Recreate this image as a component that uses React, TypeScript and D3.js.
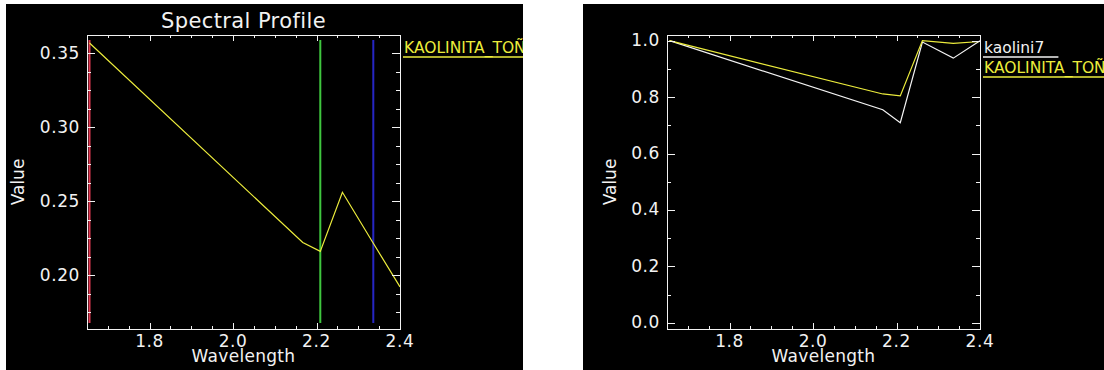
import React from 'react';
import * as d3 from 'd3';

// ---- data ----
const wavelengths = [1.656, 2.167, 2.209, 2.262, 2.336, 2.4];
const profileValues = [0.357, 0.222, 0.216, 0.256, 0.2215, 0.192];
const kaolini7Values = [1.0, 0.755, 0.709, 0.995, 0.938, 1.0];
const kaolinitaValues = [1.0, 0.811, 0.804, 1.0, 0.99, 0.997];
const bandMarkerWavelengths = [1.656, 2.209, 2.336];
const bandMarkerColors = ['#e23a52', '#3fc63f', '#2626c4'];

const xMajorTicks = [1.8, 2.0, 2.2, 2.4];
const xMinorTicks = [1.65, 1.7, 1.75, 1.85, 1.9, 1.95, 2.05, 2.1, 2.15, 2.25, 2.3, 2.35];
const leftYMajorTicks = [0.2, 0.25, 0.3, 0.35];
const leftYMinorTicks = [0.175, 0.1875, 0.2125, 0.225, 0.2375, 0.2625, 0.275, 0.2875, 0.3125, 0.325, 0.3375];
const rightYMajorTicks = [0.0, 0.2, 0.4, 0.6, 0.8, 1.0];
const rightYMinorTicks = [0.1, 0.3, 0.5, 0.7, 0.9];

const seriesNames = ['kaolini7', 'KAOLINITA_TOÑA'];

const FONT = '"DejaVu Sans", sans-serif';
const FG = '#f2f2f2';
const YELLOW = '#ecec3c';

type Series = { values: number[]; color: string };
type Legend = { text: string; color: string; x: number; y: number };

function Panel(props: {
  bg: [number, number, number, number];
  frame: [number, number, number, number];
  xDomain: [number, number];
  yDomain: [number, number];
  yMajor: number[];
  yMinor: number[];
  yFormat: (v: number) => string;
  yLabelX: number;
  title?: string;
  series: Series[];
  legends: Legend[];
  markers?: boolean;
  id: string;
}) {
  const [bx, by, bw, bh] = props.bg;
  const [fl, ft, fr, fb] = props.frame;
  const x = d3.scaleLinear().domain(props.xDomain).range([fl, fr]);
  const y = d3.scaleLinear().domain(props.yDomain).range([fb, ft]);
  const line = d3
    .line<number>()
    .x((_, i) => x(wavelengths[i]))
    .y((d) => y(d));
  const xMajLen = 6, xMinLen = 3, yMajLen = 8, yMinLen = 4;
  const cx = (fl + fr) / 2;
  return (
    <g>
      <defs>
        <clipPath id={props.id}>
          <rect x={bx} y={by} width={bw} height={bh} />
        </clipPath>
      </defs>
      <rect x={bx} y={by} width={bw} height={bh} fill="#000" />
      <g clipPath={`url(#${props.id})`}>
        {props.markers &&
          bandMarkerWavelengths.map((w, i) => (
            <line key={'m' + i} x1={x(w)} x2={x(w)} y1={ft + 5} y2={fb - 6} stroke={bandMarkerColors[i]} strokeWidth={2} />
          ))}
        {props.series.map((s, i) => (
          <path key={'s' + i} d={line(s.values) || ''} fill="none" stroke={s.color} strokeWidth={1.2} />
        ))}
        <rect x={fl + 0.5} y={ft + 0.5} width={fr - fl} height={fb - ft} fill="none" stroke={FG} strokeWidth={1} />
        {xMajorTicks.map((t) => (
          <g key={'xt' + t}>
            <line x1={Math.round(x(t)) + 0.5} x2={Math.round(x(t)) + 0.5} y1={fb} y2={fb - xMajLen} stroke={FG} />
            <line x1={Math.round(x(t)) + 0.5} x2={Math.round(x(t)) + 0.5} y1={ft} y2={ft + xMajLen} stroke={FG} />
            <text x={x(t)} y={347} textAnchor="middle" fontFamily={FONT} fontSize={17} fill={FG} letterSpacing={0.6}>
              {t.toFixed(1)}
            </text>
          </g>
        ))}
        {xMinorTicks.map((t) => (
          <g key={'xm' + t}>
            <line x1={Math.round(x(t)) + 0.5} x2={Math.round(x(t)) + 0.5} y1={fb} y2={fb - xMinLen} stroke={FG} />
            <line x1={Math.round(x(t)) + 0.5} x2={Math.round(x(t)) + 0.5} y1={ft} y2={ft + xMinLen} stroke={FG} />
          </g>
        ))}
        {props.yMajor.map((t) => (
          <g key={'yt' + t}>
            <line x1={fl} x2={fl + yMajLen} y1={Math.round(y(t)) + 0.5} y2={Math.round(y(t)) + 0.5} stroke={FG} />
            <line x1={fr} x2={fr - yMajLen} y1={Math.round(y(t)) + 0.5} y2={Math.round(y(t)) + 0.5} stroke={FG} />
            <text x={fl - 7} y={y(t) + 5.5} textAnchor="end" fontFamily={FONT} fontSize={17} fill={FG} letterSpacing={0.6}>
              {props.yFormat(t)}
            </text>
          </g>
        ))}
        {props.yMinor.map((t) => (
          <g key={'ym' + t}>
            <line x1={fl} x2={fl + yMinLen} y1={Math.round(y(t)) + 0.5} y2={Math.round(y(t)) + 0.5} stroke={FG} />
            <line x1={fr} x2={fr - yMinLen} y1={Math.round(y(t)) + 0.5} y2={Math.round(y(t)) + 0.5} stroke={FG} />
          </g>
        ))}
        {props.title && (
          <text x={cx} y={28} textAnchor="middle" fontFamily={FONT} fontSize={21} fill={FG} letterSpacing={0.4}>
            {props.title}
          </text>
        )}
        <text x={cx} y={362} textAnchor="middle" fontFamily={FONT} fontSize={17} fill={FG} letterSpacing={0.3}>
          Wavelength
        </text>
        <text
          transform={`translate(${props.yLabelX},${(ft + fb) / 2}) rotate(-90)`}
          textAnchor="middle"
          fontFamily={FONT}
          fontSize={17}
          fill={FG}
        >
          Value
        </text>
        {props.legends.map((l, i) => {
          const w = l.text.length * 9.3;
          return (
            <g key={'l' + i}>
              <text x={l.x} y={l.y} fontFamily={FONT} fontSize={15.5} fill={l.color}>
                {l.text}
              </text>
              <line x1={l.x - 1} x2={l.x + w} y1={l.y + 4} y2={l.y + 4} stroke={l.color} strokeWidth={1.3} />
            </g>
          );
        })}
      </g>
    </g>
  );
}

export default function App() {
  const xDomain: [number, number] = [1.65, 2.4];
  return (
    <svg width={1104} height={370} style={{ position: 'absolute', left: 0, top: 0 }}>
      <rect x={0} y={0} width={1104} height={370} fill="#fff" />
      <Panel
        id="clipL"
        bg={[6, 4, 517, 366]}
        frame={[87, 35, 400, 329]}
        xDomain={xDomain}
        yDomain={[0.1635, 0.3624]}
        yMajor={leftYMajorTicks}
        yMinor={leftYMinorTicks}
        yFormat={(v) => v.toFixed(2)}
        yLabelX={23.5}
        title="Spectral Profile"
        series={[{ values: profileValues, color: YELLOW }]}
        legends={[{ text: seriesNames[1], color: YELLOW, x: 404, y: 53 }]}
        markers
      />
      <Panel
        id="clipR"
        bg={[583, 4, 521, 366]}
        frame={[667, 35, 980, 329]}
        xDomain={xDomain}
        yDomain={[-0.022, 1.02]}
        yMajor={rightYMajorTicks}
        yMinor={rightYMinorTicks}
        yFormat={(v) => v.toFixed(1)}
        yLabelX={616}
        series={[
          { values: kaolini7Values, color: '#f4f4f4' },
          { values: kaolinitaValues, color: YELLOW },
        ]}
        legends={[
          { text: seriesNames[0], color: FG, x: 984, y: 53 },
          { text: seriesNames[1], color: YELLOW, x: 984, y: 73 },
        ]}
      />
    </svg>
  );
}
